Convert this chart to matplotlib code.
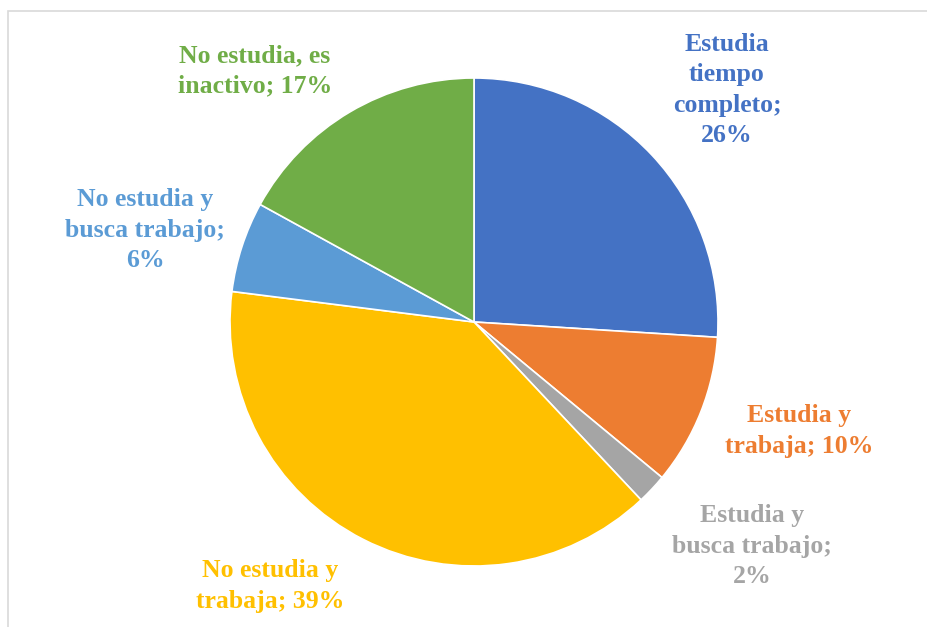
import matplotlib.pyplot as plt
from matplotlib.patches import Rectangle

categories = ["Estudia\ntiempo\ncompleto", "Estudia y\ntrabaja", "Estudia y\nbusca trabajo",
              "No estudia y\ntrabaja", "No estudia y\nbusca trabajo", "No estudia, es\ninactivo"]
shares = [26, 10, 2, 39, 6, 17]
colors = ["#4472C4", "#ED7D31", "#A5A5A5", "#FFC000", "#5B9BD5", "#70AD47"]
# label text as it appears (line breaks follow the picture)
label_texts = ["Estudia\ntiempo\ncompleto;\n26%", "Estudia y\ntrabaja; 10%", "Estudia y\nbusca trabajo;\n2%",
               "No estudia y\ntrabaja; 39%", "No estudia y\nbusca trabajo;\n6%", "No estudia, es\ninactivo; 17%"]
# label centres in pixels (x, y from top)
label_pos = [(727, 90), (799, 431), (752, 546), (270, 586), (145, 230), (255, 71)]

W, H = 927, 627
cx, cy, r = 474, 322, 244

fig = plt.figure(figsize=(W / 100, H / 100), dpi=100)
ax = fig.add_axes([0, 0, 1, 1])

ax.pie(shares, colors=colors, startangle=90, counterclock=False, radius=1.0,
       wedgeprops=dict(edgecolor="white", linewidth=1.2))

# pie() resets the limits, so set them afterwards
ax.set_xlim(-cx / r, (W - cx) / r)
ax.set_ylim((cy - H) / r, cy / r)
ax.set_aspect("equal")
ax.axis("off")

for txt, (px, py), col in zip(label_texts, label_pos, colors):
    ax.text((px - cx) / r, (cy - py) / r, txt, color=col, ha="center", va="center",
            fontsize=18.5, fontweight="bold", family="Liberation Serif", linespacing=1.4)

# chart frame
frame = Rectangle((8 / W, -0.1), 2, (H - 11) / H + 0.1, transform=fig.transFigure,
                  fill=False, edgecolor="#D9D9D9", linewidth=1.2)
fig.patches.append(frame)

fig.savefig("out.png", dpi=100)
